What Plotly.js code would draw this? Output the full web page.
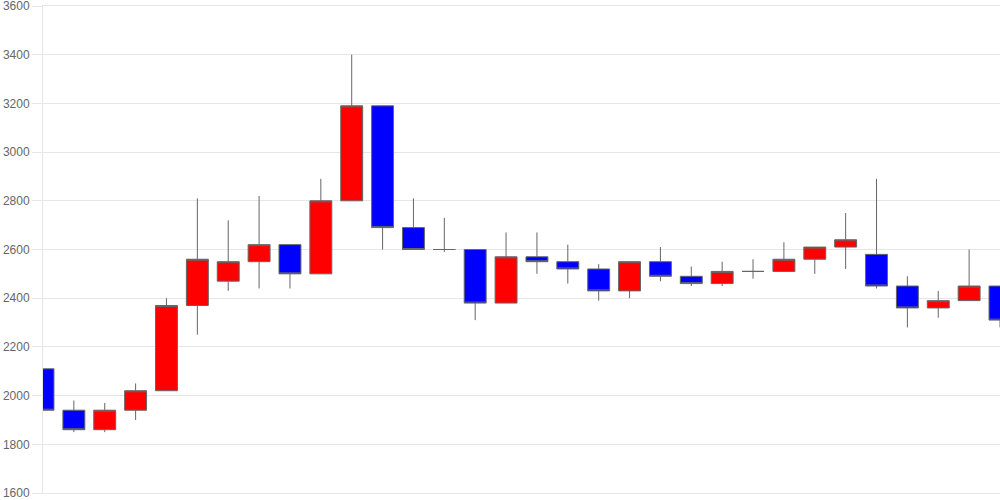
<!DOCTYPE html>
<html>
<head>
<meta charset="utf-8">
<script src="https://cdn.plot.ly/plotly-3.0.1.min.js"></script>
<style>
  html, body { margin: 0; padding: 0; background: #fff; }
  #chart { width: 1000px; height: 500px; }
</style>
</head>
<body>
<div id="chart"></div>
<script>
const idx   = [0,1,2,3,4,5,6,7,8,9,10,11,12,13,14,15,16,17,18,19,20,21,22,23,24,25,26,27,28,29,30,31];
const open  = [2110,1940,1860,1940,2020,2370,2470,2550,2620,2500,2800,3190,2690,2600,2600,2380,2570,2550,2520,2430,2550,2490,2460,2510,2510,2560,2610,2580,2450,2360,2390,2450];
const high  = [2110,1980,1970,2050,2400,2810,2720,2820,2620,2890,3400,3190,2810,2730,2600,2670,2670,2620,2540,2550,2610,2530,2550,2560,2630,2610,2750,2890,2490,2430,2600,2450];
const low   = [1940,1850,1850,1900,2020,2250,2430,2440,2440,2500,2800,2600,2600,2590,2310,2380,2500,2460,2390,2400,2470,2450,2450,2480,2510,2500,2520,2440,2280,2320,2390,2280];
const close = [1940,1860,1940,2020,2370,2560,2550,2620,2500,2800,3190,2690,2600,2600,2380,2570,2550,2520,2430,2550,2490,2460,2510,2510,2560,2610,2640,2450,2360,2390,2450,2310];
const yTicks = [1600,1800,2000,2200,2400,2600,2800,3000,3200,3400,3600];

const trace = {
  type: 'candlestick',
  x: idx, open: open, high: high, low: low, close: close,
  increasing: { fillcolor: '#ff0000', line: { color: '#666666', width: 1 } },
  decreasing: { fillcolor: '#0000ff', line: { color: '#666666', width: 1 } },
  whiskerwidth: 0,
  hoverinfo: 'skip'
};

const layout = {
  width: 1000, height: 500,
  margin: { l: 43, r: 0, t: 6, b: 7, pad: 0 },
  paper_bgcolor: '#ffffff', plot_bgcolor: '#ffffff',
  showlegend: false,
  boxgap: 0.29, boxgroupgap: 0,
  font: { family: 'Liberation Sans, Arial, sans-serif', size: 12, color: '#666666' },
  xaxis: {
    range: [0, 31], showticklabels: false, showgrid: false, zeroline: false,
    showline: true, mirror: true, linecolor: '#e6e6e6', linewidth: 1,
    ticks: '', rangeslider: { visible: false }, fixedrange: true
  },
  yaxis: {
    range: [1600, 3600], tickvals: yTicks, ticktext: yTicks.map(String),
    showgrid: true, gridcolor: '#e6e6e6', gridwidth: 1,
    zeroline: false, showline: true, linecolor: '#e6e6e6', linewidth: 1,
    ticks: 'outside', ticklen: 10, tickcolor: '#e6e6e6', tickwidth: 1,
    ticklabeloverflow: 'allow',
    tickfont: { family: 'Liberation Sans, Arial, sans-serif', size: 12, color: '#666666' },
    fixedrange: true
  }
};

Plotly.newPlot('chart', [trace], layout, { displayModeBar: false, staticPlot: true });
</script>
</body>
</html>
